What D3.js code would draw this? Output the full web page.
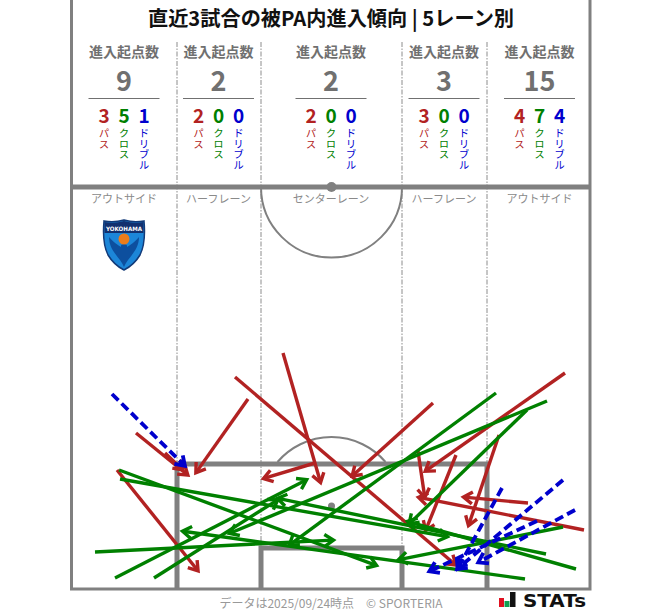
<!DOCTYPE html>
<html><head><meta charset="utf-8">
<script src="https://cdn.jsdelivr.net/npm/d3@7/dist/d3.min.js"></script>
<style>html,body{margin:0;padding:0;background:#fff}svg{display:block}text{font-family:"Noto Sans CJK JP","Noto Sans",sans-serif}</style>
</head><body><svg id="c" width="663" height="611"></svg>
<script>
const title = "直近3試合の被PA内進入傾向 | 5レーン別";
const laneNames = ["アウトサイド","ハーフレーン","センターレーン","ハーフレーン","アウトサイド"];
const laneTotals = [9,2,2,3,15];
const lanePass = [3,2,2,3,4];
const laneCross = [5,0,0,0,7];
const laneDribble = [1,0,0,0,4];
const laneEdges = [0,105,189,330,415,518];
// [startX, startY, endX, endY]: x from left touchline, y from goal line (picture units)
const passes = [[64,156,117,113],[93,136,112,118],[176,190,123,115],[163,212,385,23],[211,236,249,105],[243,126,190,110],[45,119,127,17],[361,186,279,112],[493,216,352,117],[346,138,353,90],[384,134,353,57],[427,154,396,62],[512,59,345,92],[456,86,390,92]];
const crosses = [[47,119,306,23],[48,110,377,52],[23,37,263,49],[43,11,236,110],[82,11,207,90],[424,196,216,43],[475,188,156,55],[455,179,336,64],[453,10,109,58],[491,62,325,29],[474,35,204,91],[504,20,334,68]];
const dribbles = [[40,195,114,122],[430,101,385,19],[491,109,384,19],[503,79,405,26],[465,68,356,17]];
const footer = "データは2025/09/24時点　© SPORTERIA";
const RED="#b22222",GREEN="#008000",BLUE="#0000cd",GREY="#808080",TXT="#707070";

const svg=d3.select("#c");
const x=d3.scaleLinear().domain([0,518]).range([72,590]);
const y=d3.scaleLinear().domain([0,589]).range([589,0]);
const centres=[124,218.5,331,444,539.5];

// pitch
const g=svg.append("g").attr("fill","none").attr("stroke",GREY);
const penY=y(125),areaY=y(41),midY=187,midX=x(259.5),spotY=y(83);
g.append("path").attr("stroke-width",3).attr("d",`M${x(0)-.5},0V${y(0)}H${x(518)}V0`);
g.append("path").attr("stroke-width",5).attr("d",`M${x(0)},${midY}H${x(518)}`);
g.append("path").attr("stroke-width",5).attr("d",`M${x(105)},${y(0)}V${penY}H${x(415)}V${y(0)}`);
g.append("path").attr("stroke-width",5).attr("d",`M${x(189)},${y(0)}V${areaY}H${x(330)}V${y(0)}`);
g.append("path").attr("stroke-width",2).attr("d",`M${midX-70.5},${midY}A70.5,70.5 0 0 0 ${midX+70.5},${midY}`);
g.append("path").attr("stroke-width",2).attr("d",`M${midX-54},${penY-2}A71,71 0 0 1 ${midX+54},${penY-2}`);
svg.append("circle").attr("cx",midX).attr("cy",midY).attr("r",5).attr("fill",GREY);
svg.append("circle").attr("cx",midX).attr("cy",spotY).attr("r",3.5).attr("fill",GREY);
[[105,penY],[189,areaY],[330,areaY],[415,penY]].forEach(([e,b])=>{
  svg.append("line").attr("x1",x(e)).attr("x2",x(e)).attr("y1",42).attr("y2",b)
   .attr("stroke","#808080").attr("stroke-width",.9).attr("stroke-dasharray","5,1.5,1.5,1.5");
});

// text
const t=(px,py,s,size,fill,weight)=>svg.append("text").attr("x",px).attr("y",py).attr("text-anchor","middle")
  .attr("font-size",size).attr("fill",fill).attr("font-weight",weight||400).text(s);
t(331,25.5,title,20.2,"#111",700);
centres.forEach((c,i)=>{
  t(c,57,"進入起点数",14,TXT,700);
  t(c,91,laneTotals[i],27,TXT,700);
  svg.append("line").attr("x1",c-35.5).attr("x2",c+35.5).attr("y1",98.5).attr("y2",98.5).attr("stroke",TXT).attr("stroke-width",1.2);
  [[lanePass[i],"パス",RED],[laneCross[i],"クロス",GREEN],[laneDribble[i],"ドリブル",BLUE]].forEach(([v,l,col],k)=>{
    const cx=c+(k-1)*20;
    t(cx,123,v,19,col,700);
    svg.append("text").attr("x",cx).attr("y",128).attr("fill",col).attr("font-size",10.5)
      .style("writing-mode","vertical-rl").attr("text-anchor","start").text(l);
  });
  t(c,203,laneNames[i],11,"#8a8a8a");
});

// arrows
function arrows(data,col,w,dash){
  const L=svg.append("g").attr("fill","none").attr("stroke",col).attr("stroke-width",w);
  data.forEach(d=>{
    const x0=x(d[0]),y0=y(d[1]),x1=x(d[2]),y1=y(d[3]);
    const a=Math.atan2(y1-y0,x1-x0),h=12,s=0.52;
    const l=L.append("line").attr("x1",x0).attr("y1",y0).attr("x2",x1-Math.cos(a)*2).attr("y2",y1-Math.sin(a)*2);
    if(dash)l.attr("stroke-dasharray",dash);
    L.append("path").attr("stroke-linejoin","miter").attr("stroke-miterlimit",6)
     .attr("d",`M${x1-h*Math.cos(a-s)},${y1-h*Math.sin(a-s)}L${x1-1.5*Math.cos(a)},${y1-1.5*Math.sin(a)}L${x1-h*Math.cos(a+s)},${y1-h*Math.sin(a+s)}`);
  });
}
arrows(passes,RED,3.4);
arrows(crosses,GREEN,3.4);
arrows(dribbles,BLUE,3.8,"9,4.5");

// footer
t(331,608,footer,12,"#999");
svg.append("rect").attr("x",499).attr("y",598).attr("width",5).attr("height",9).attr("fill","#e01020");
svg.append("rect").attr("x",504.5).attr("y",601).attr("width",5).attr("height",6).attr("fill","#10a050");
svg.append("rect").attr("x",510).attr("y",592).attr("width",5.5).attr("height",15).attr("fill","#111");
svg.append("text").attr("x",523).attr("y",607).style("font-family","DejaVu Sans").attr("font-weight",700)
  .attr("font-size",18.5).attr("fill","#111").attr("textLength",63).attr("lengthAdjust","spacingAndGlyphs").text("STATs");

// crest
const b=svg.append("g").attr("transform","translate(124,245)");
const shield="M-20,-24Q-10,-22 0,-25Q10,-22 20,-24Q22,-2 16,10Q10,20 0,25Q-10,20 -16,10Q-22,-2 -20,-24Z";
b.append("path").attr("d",shield).attr("fill","#1c86d8").attr("stroke","#123a78").attr("stroke-width",1.5);
b.append("path").attr("d","M-19.5,-23Q-10,-21 0,-24Q10,-21 19.5,-23L19.5,-12H-19.5Z").attr("fill","#12306e");
b.append("path").attr("d","M0,22C-4,12 -15,6 -15,-8C-10,-2 -6,0 -3,2C-4,-2 4,-2 3,2C6,0 10,-2 15,-8C15,6 4,12 0,22Z").attr("fill","#0d4f9e");
b.append("circle").attr("cy",-6).attr("r",5.5).attr("fill","#ee7d1a");
b.append("text").attr("y",-14.5).attr("text-anchor","middle").attr("font-size",6).attr("font-weight",700).attr("fill","#fff").style("font-family","DejaVu Sans").attr("textLength",36).attr("lengthAdjust","spacingAndGlyphs").text("YOKOHAMA");
</script></body></html>
